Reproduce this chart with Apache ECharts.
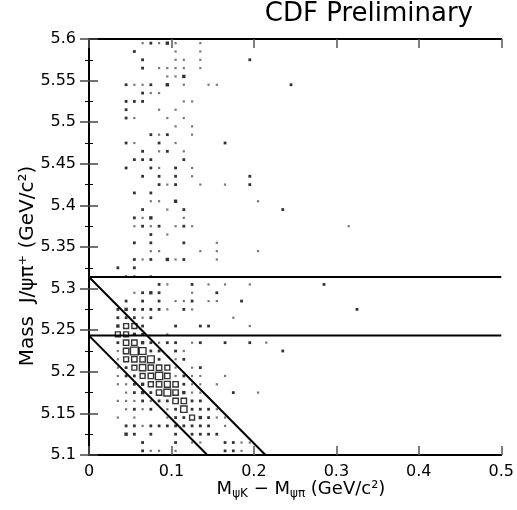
<!DOCTYPE html>
<html>
<head>
<meta charset="utf-8">
<script src="https://cdn.jsdelivr.net/npm/echarts@6/dist/echarts.min.js"></script>
<style>
html,body{margin:0;padding:0;background:#fff;}
#chart{width:517px;height:510px;}
</style>
</head>
<body>
<div id="chart"></div>
<script>
// ---- data ----
const xTickLabels = ['0', '0.1', '0.2', '0.3', '0.4', '0.5'];
const yTickLabels = ['5.1', '5.15', '5.2', '5.25', '5.3', '5.35', '5.4', '5.45', '5.5', '5.55', '5.6'];

// 2D histogram rows: [y bin centre, [[x bin centre, entries], ...]]
const histRows = [
  [5.595, [[0.065,1],[0.075,2],[0.085,1],[0.095,3],[0.105,1],[0.135,1]]],
  [5.585, [[0.055,2],[0.105,1],[0.135,1]]],
  [5.575, [[0.065,2],[0.105,1],[0.115,1],[0.135,1],[0.195,2]]],
  [5.565, [[0.065,2],[0.085,1],[0.095,1],[0.105,1],[0.115,1],[0.135,1]]],
  [5.555, [[0.095,1],[0.105,1],[0.115,3]]],
  [5.545, [[0.045,2],[0.055,1],[0.065,1],[0.075,2],[0.095,3],[0.115,1],[0.145,1],[0.155,1],[0.245,2]]],
  [5.535, [[0.065,2],[0.075,1],[0.085,1]]],
  [5.525, [[0.045,2],[0.055,2],[0.065,2],[0.115,1],[0.125,1]]],
  [5.515, [[0.045,2],[0.085,1],[0.105,1]]],
  [5.505, [[0.045,2],[0.055,1],[0.095,1],[0.115,1]]],
  [5.495, [[0.105,1],[0.125,1]]],
  [5.485, [[0.075,2],[0.085,1],[0.095,2],[0.125,1]]],
  [5.475, [[0.045,2],[0.055,1],[0.085,2],[0.105,1],[0.165,2]]],
  [5.465, [[0.065,2],[0.085,1],[0.095,2],[0.115,1]]],
  [5.455, [[0.055,2],[0.065,2],[0.075,2],[0.115,2]]],
  [5.445, [[0.045,2],[0.075,2],[0.085,1],[0.105,2],[0.125,1]]],
  [5.435, [[0.065,2],[0.085,2],[0.105,2],[0.125,1],[0.195,2]]],
  [5.425, [[0.085,2],[0.095,1],[0.105,2],[0.135,1],[0.165,1],[0.195,2]]],
  [5.415, [[0.055,2],[0.075,2]]],
  [5.405, [[0.075,1],[0.085,1],[0.105,3],[0.205,1]]],
  [5.395, [[0.065,2],[0.095,1],[0.115,2],[0.235,2]]],
  [5.385, [[0.055,2],[0.065,1],[0.075,3],[0.115,1]]],
  [5.375, [[0.055,1],[0.065,2],[0.075,1],[0.085,2],[0.105,1],[0.115,2],[0.125,1],[0.315,1]]],
  [5.365, [[0.075,2],[0.095,1]]],
  [5.355, [[0.055,2],[0.075,2],[0.115,2],[0.155,1]]],
  [5.345, [[0.075,1],[0.085,1],[0.135,1],[0.155,1],[0.205,1]]],
  [5.335, [[0.055,2],[0.065,1],[0.075,2],[0.095,3],[0.105,1],[0.115,2],[0.155,1]]],
  [5.325, [[0.035,2],[0.055,2]]],
  [5.315, [[0.045,1],[0.055,1],[0.075,1]]],
  [5.305, [[0.085,2],[0.095,1],[0.125,2],[0.145,1],[0.165,1],[0.195,1],[0.285,2]]],
  [5.295, [[0.055,1],[0.065,2],[0.075,3],[0.085,2],[0.125,1],[0.155,2]]],
  [5.285, [[0.045,2],[0.065,2],[0.085,2],[0.105,1],[0.115,1],[0.125,2],[0.145,1],[0.155,1],[0.185,2]]],
  [5.275, [[0.035,2],[0.045,3],[0.055,2],[0.065,2],[0.075,2],[0.085,2],[0.095,1],[0.115,2],[0.125,1],[0.325,2]]],
  [5.265, [[0.035,2],[0.045,2],[0.055,2],[0.065,1],[0.075,2],[0.175,1]]],
  [5.255, [[0.035,3],[0.045,4],[0.055,4],[0.065,2],[0.105,2],[0.135,2],[0.145,2],[0.195,1]]],
  [5.245, [[0.035,4],[0.045,4],[0.055,3],[0.065,2],[0.095,1]]],
  [5.235, [[0.035,2],[0.045,5],[0.055,5],[0.065,3],[0.075,2],[0.085,1],[0.095,2],[0.105,2],[0.125,1],[0.135,2],[0.165,2],[0.195,2],[0.215,1]]],
  [5.225, [[0.035,1],[0.045,5],[0.055,10],[0.065,8],[0.075,2],[0.085,2],[0.105,2],[0.115,1],[0.235,2]]],
  [5.215, [[0.035,1],[0.045,4],[0.055,5],[0.065,5],[0.075,8],[0.085,2],[0.105,1],[0.115,2]]],
  [5.205, [[0.035,1],[0.045,2],[0.055,4],[0.065,7],[0.075,5],[0.085,5],[0.095,4],[0.105,1],[0.125,1],[0.135,2]]],
  [5.195, [[0.035,1],[0.045,2],[0.055,2],[0.065,4],[0.075,5],[0.085,9],[0.095,5],[0.105,1],[0.115,2],[0.125,1],[0.135,1],[0.165,1]]],
  [5.185, [[0.035,1],[0.045,1],[0.055,2],[0.065,3],[0.075,4],[0.085,5],[0.095,6],[0.105,5],[0.115,2],[0.125,1],[0.135,1],[0.155,1]]],
  [5.175, [[0.045,1],[0.055,2],[0.065,3],[0.075,2],[0.085,5],[0.095,8],[0.105,5],[0.115,3],[0.125,1],[0.135,1],[0.175,2],[0.205,1]]],
  [5.165, [[0.035,1],[0.045,1],[0.055,1],[0.065,2],[0.075,1],[0.085,2],[0.095,2],[0.105,5],[0.115,5],[0.125,2],[0.135,2]]],
  [5.155, [[0.045,1],[0.055,2],[0.065,1],[0.075,2],[0.095,1],[0.105,2],[0.115,7],[0.125,2],[0.135,2],[0.145,2],[0.155,1]]],
  [5.145, [[0.035,1],[0.055,1],[0.095,1],[0.105,2],[0.115,2],[0.125,4],[0.135,3],[0.145,2],[0.155,1],[0.165,1]]],
  [5.135, [[0.045,2],[0.055,2],[0.065,1],[0.075,2],[0.085,2],[0.095,2],[0.105,2],[0.115,2],[0.125,2],[0.135,2],[0.145,2],[0.165,1]]],
  [5.125, [[0.045,3],[0.055,2],[0.075,2],[0.105,2],[0.125,2],[0.135,2],[0.145,2],[0.155,2]]],
  [5.115, [[0.065,2],[0.105,2],[0.125,1],[0.135,1],[0.165,2],[0.175,2],[0.185,1],[0.195,1]]],
  [5.105, [[0.065,2],[0.075,1],[0.085,1],[0.105,1],[0.165,2],[0.175,2],[0.185,1]]]
];

// selection lines (end points)
const cutUpper = [[0, 5.314], [0.5, 5.314]];
const cutLower = [[0, 5.2435], [0.5, 5.2435]];
const diagUpper = [[0, 5.314], [0.214, 5.1]];
const diagLower = [[0, 5.2435], [0.1435, 5.1]];

// ---- build ----
const FONT = 'DejaVu Sans';
function boxSize(n) {
  if (n <= 1) return 2.2;
  if (n === 2) return 2.8;
  if (n === 3) return 3.4;
  return 3 + 0.48 * n;
}
const cells = [];
histRows.forEach(function (row) {
  row[1].forEach(function (c) {
    const n = c[1];
    const hollow = n >= 4;
    cells.push({
      value: [c[0], row[0], n],
      symbolSize: boxSize(n),
      itemStyle: hollow
        ? { color: '#fff', borderColor: '#000', borderWidth: 1.4 }
        : { color: n === 1 ? '#555' : '#000', borderWidth: 0 }
    });
  });
});

const lineStyle = { color: '#000', width: 2 };
function lineSeries(pts) {
  return { type: 'line', data: pts, symbol: 'none', lineStyle: lineStyle, silent: true, z: 5, animation: false };
}

const yAxisCommon = {
  type: 'value', min: 5.1, max: 5.6, interval: 0.05,
  axisLine: { show: true, lineStyle: { color: '#000', width: 2 } },
  axisTick: { show: true, inside: true, length: 9, lineStyle: { color: '#444', width: 1.5 } },
  minorTick: { show: true, splitNumber: 2, length: 4, lineStyle: { color: '#000', width: 1 } },
  splitLine: { show: false }, minorSplitLine: { show: false }
};
const xAxisCommon = {
  type: 'value', min: 0, max: 0.5, interval: 0.1,
  axisLine: { show: true, lineStyle: { color: '#000', width: 2 } },
  axisTick: { show: true, inside: true, length: 9, lineStyle: { color: '#555', width: 1.5 } },
  splitLine: { show: false }
};

const chart = echarts.init(document.getElementById('chart'), null, { renderer: 'canvas' });
chart.setOption({
  animation: false,
  backgroundColor: '#fff',
  grid: { left: 89, top: 39, width: 416, height: 416, containLabel: false },
  xAxis: [
    Object.assign({}, xAxisCommon, {
      position: 'bottom',
      axisLabel: {
        show: true, margin: 9, color: '#000', fontFamily: FONT, fontSize: 16,
        formatter: function (v) { return xTickLabels[Math.round(v / 0.1)]; }
      }
    }),
    Object.assign({}, xAxisCommon, { position: 'top', axisLabel: { show: false } })
  ],
  yAxis: [
    Object.assign({}, yAxisCommon, {
      position: 'left',
      axisLabel: {
        show: true, margin: 13, color: '#000', fontFamily: FONT, fontSize: 16,
        formatter: function (v) { return yTickLabels[Math.round((v - 5.1) / 0.05)]; }
      }
    }),
    Object.assign({}, yAxisCommon, { position: 'right', axisLabel: { show: false } })
  ],
  series: [
    { type: 'scatter', symbol: 'rect', data: cells, z: 3, silent: true, animation: false },
    lineSeries(cutUpper),
    lineSeries(cutLower),
    lineSeries(diagUpper),
    lineSeries(diagLower)
  ],
  graphic: [
    {
      type: 'text', right: 44, top: 1,
      style: { text: 'CDF Preliminary', fontFamily: FONT, fontSize: 26, fill: '#000' }
    },
    {
      type: 'text', x: 301, y: 489,
      style: {
        text: '{m|M}{s|ψK}{m| − M}{s|ψπ}{m| (GeV/c²)}',
        align: 'center', verticalAlign: 'middle', fill: '#000',
        rich: {
          m: { fontFamily: FONT, fontSize: 18, lineHeight: 22, fill: '#000' },
          s: { fontFamily: FONT, fontSize: 12, lineHeight: 12, verticalAlign: 'bottom', fill: '#000' }
        }
      }
    },
    {
      type: 'text', x: 28, y: 266, rotation: Math.PI / 2,
      style: {
        text: 'Mass  J/ψπ⁺ (GeV/c²)', fontFamily: FONT, fontSize: 20,
        align: 'center', verticalAlign: 'middle', fill: '#000'
      }
    }
  ]
});
</script>
</body>
</html>
